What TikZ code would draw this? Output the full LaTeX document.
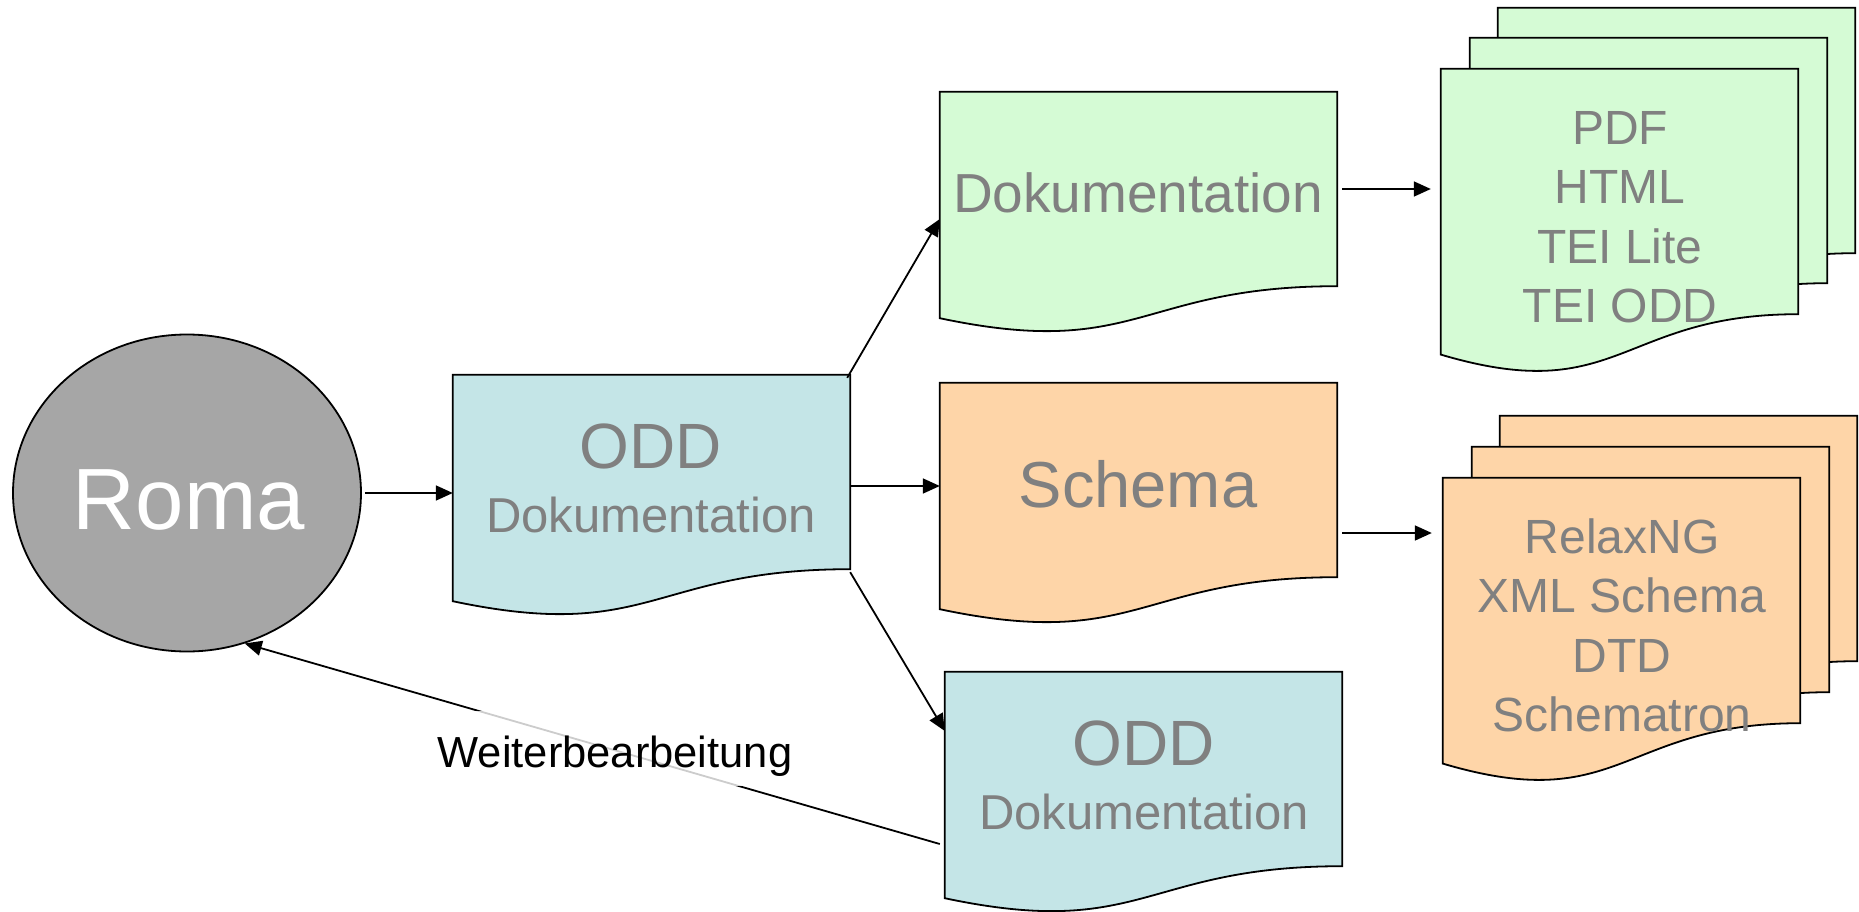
\documentclass[tikz,border=0pt]{standalone}
\usepackage{fontspec}
\setmainfont{Liberation Sans}
\usetikzlibrary{shapes.geometric,arrows.meta,calc}
\definecolor{oddc}{RGB}{196,229,231}
\definecolor{docg}{RGB}{213,251,213}
\definecolor{schc}{RGB}{254,213,168}
\definecolor{romac}{RGB}{166,166,166}
\definecolor{txtg}{RGB}{128,128,128}
\newcommand\fsz[1]{\fontsize{#1}{#1}\selectfont}
\tikzset{
  docline/.style={draw=black, line width=1.8pt, line join=miter},
  docnode/.style={rectangle, inner sep=0pt, minimum width=397, minimum height=194},
  pagenode/.style={rectangle, inner sep=0pt, minimum width=357, minimum height=245},
  txt/.style={anchor=base, inner sep=0pt, text=txtg},
  arr/.style={line width=1.8pt, -{Triangle[length=17pt,width=15pt]}},
}
\newcommand\docbg[2]{%
  \filldraw[docline,fill=#2] (#1.north west) -- (#1.north east) -- (#1.south east)
   .. controls (#1.south) and ($(#1.south)!-0.381!(#1.north)$) ..
   ($(#1.south west)!-0.1646!(#1.north west)$) -- cycle;}
\begin{document}
\begin{tikzpicture}[x=1pt,y=-1pt]
\useasboundingbox (0,0) rectangle (1859,912);
% Roma
\node[ellipse, draw=black, line width=1.8pt, fill=romac, minimum width=348, minimum height=317, inner sep=0pt] (roma) at (187,493) {};
\node[anchor=base, inner sep=0pt, text=white, font=\fsz{87}] (romat) at (189,529) {Roma};
% ODD 1
\node[docnode] (odd1) at (651.5,472) {};
\docbg{odd1}{oddc}
\node[txt, font=\fsz{64}] (odd1a) at (651,468) {ODD};
\node[txt, font=\fsz{49}] (odd1b) at (651,532) {Dokumentation};
% Dokumentation (green)
\node[docnode] (green) at (1138.5,189) {};
\docbg{green}{docg}
\node[txt, font=\fsz{55}] (greent) at (1138,212) {Dokumentation};
% Schema
\node[docnode] (schema) at (1138.5,480) {};
\docbg{schema}{schc}
\node[txt, font=\fsz{65}] (schemat) at (1138,507) {Schema};
% ODD 2
\node[docnode] (odd2) at (1143.5,769) {};
\docbg{odd2}{oddc}
\node[txt, font=\fsz{64}] (odd2a) at (1144,765) {ODD};
\node[txt, font=\fsz{49}] (odd2b) at (1144,829) {Dokumentation};
% green stack
\node[pagenode] (gb) at (1676.5,130.5) {};
\docbg{gb}{docg}
\node[pagenode] (gm) at (1648.5,160.5) {};
\docbg{gm}{docg}
\node[pagenode] (gf) at (1619.5,191.5) {};
\docbg{gf}{docg}
\node[txt, font=\fsz{48}] (g1) at (1620,145) {PDF};
\node[txt, font=\fsz{48}] (g2) at (1620,204) {HTML};
\node[txt, font=\fsz{48}] (g3) at (1620,263) {TEI Lite};
\node[txt, font=\fsz{48}] (g4) at (1620,322) {TEI ODD};
% orange stack
\node[pagenode] (ob) at (1678.5,538.5) {};
\docbg{ob}{schc}
\node[pagenode] (om) at (1650.5,569.5) {};
\docbg{om}{schc}
\node[pagenode] (of) at (1621.5,600.5) {};
\docbg{of}{schc}
\node[txt, font=\fsz{48}] (o1) at (1622,553) {RelaxNG};
\node[txt, font=\fsz{48}] (o2) at (1622,612) {XML Schema};
\node[txt, font=\fsz{48}] (o3) at (1622,672) {DTD};
\node[txt, font=\fsz{48}] (o4) at (1622,731) {Schematron};
% connectors
\draw[arr] ([xshift=3pt]roma.east) -- (roma.east -| odd1.west);
\coordinate (sIn) at ([yshift=-6pt]schema.west);
\draw[arr] (sIn -| odd1.east) -- (sIn);
\coordinate (gIn) at ([yshift=-30pt]green.west);
\draw[arr] ([xshift=-3pt,yshift=-3pt]odd1.north east) -- (gIn);
\coordinate (o2In) at ([yshift=38pt]odd2.west);
\draw[arr] ([yshift=-3pt]odd1.south east) -- (o2In);
\draw[arr, shorten >=10pt] ([xshift=5pt]green.east) -- (green.east -| gf.west);
\coordinate (sOut) at ([xshift=5pt,yshift=-53pt]schema.east);
\draw[arr, shorten >=11pt] (sOut) -- (sOut -| of.west);
\coordinate (fb) at ([xshift=-5pt,yshift=-75pt]odd2.west);
\draw[arr] (fb) -- (roma.-69);
\node[anchor=base, inner sep=0pt, text height=56pt, text depth=19pt, fill=white, fill opacity=0.8, text opacity=1, font=\fsz{43.5}] (lbl) at (615,767) {Weiterbearbeitung};
\end{tikzpicture}
\end{document}
